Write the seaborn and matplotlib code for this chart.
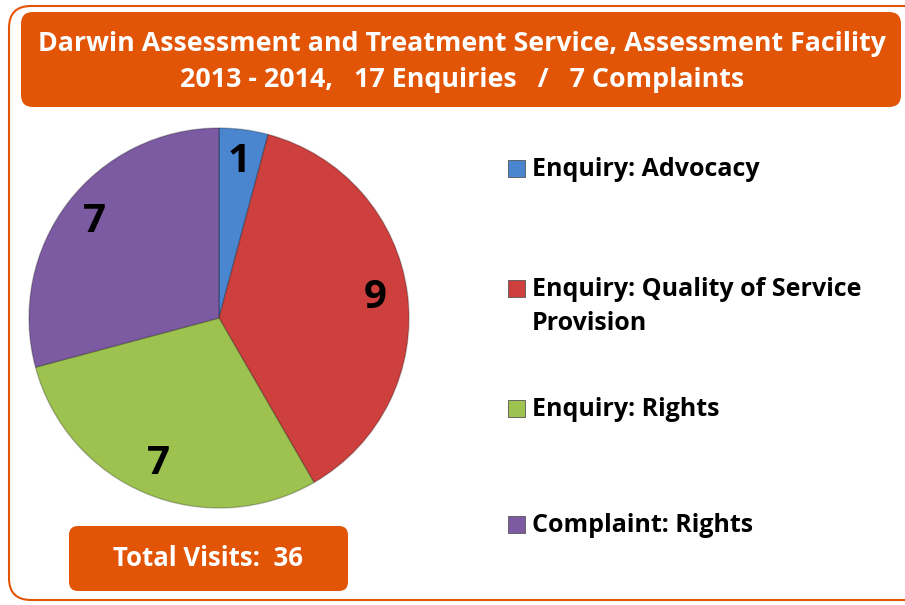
import matplotlib.pyplot as plt
import seaborn as sns
from matplotlib.patches import FancyBboxPatch, Rectangle

categories = ["Enquiry: Advocacy", "Enquiry: Quality of Service\nProvision",
              "Enquiry: Rights", "Complaint: Rights"]
counts = [1, 9, 7, 7]
colors = ["#4A86D0", "#CD403D", "#9DC250", "#7D5BA3"]
title_lines = ["Darwin Assessment and Treatment Service, Assessment Facility",
               "2013 - 2014,   17 Enquiries   /   7 Complaints"]
total_label = "Total Visits:  36"

sns.set_theme(style="white")
plt.rcParams["font.family"] = ["Open Sans", "DejaVu Sans"]
orange = "#E25406"

fig = plt.figure(figsize=(9.05, 6.05), dpi=100)

# overlay axis in pixel coords for boxes / legend
bg = fig.add_axes([0, 0, 1, 1])
bg.set_xlim(0, 905)
bg.set_ylim(605, 0)
bg.axis("off")

bg.add_patch(FancyBboxPatch((9, 6), 920, 594, boxstyle="round,pad=0,rounding_size=22",
                            fc="white", ec=orange, lw=1.5))
bg.add_patch(FancyBboxPatch((21, 12), 880, 95, boxstyle="round,pad=0,rounding_size=12",
                            fc=orange, ec="none"))
bg.text(462, 44, title_lines[0], color="white", fontsize=19.3, fontweight="bold",
        ha="center", va="center")
bg.text(462, 80, title_lines[1], color="white", fontsize=19.3, fontweight="bold",
        ha="center", va="center")
bg.add_patch(FancyBboxPatch((69, 526), 279, 65, boxstyle="round,pad=0,rounding_size=9",
                            fc=orange, ec="none"))
bg.text(208, 558, total_label, color="white", fontsize=18.5, fontweight="bold",
        ha="center", va="center")

# legend entries
leg_y = [168, 288, 408, 524]
for lab, col, y in zip(categories, colors, leg_y):
    bg.add_patch(Rectangle((508, y - 8), 17, 17, fc=col, ec="#555555", lw=0.6))
    bg.text(532, y - 11, lab, fontsize=18, fontweight="bold", color="black",
            ha="left", va="top", linespacing=1.45)

# pie
ax = fig.add_axes([29 / 905, (605 - 318 - 190) / 605, 380 / 905, 380 / 605])
wedges, texts, autotexts = ax.pie(
    counts, colors=colors, startangle=90, counterclock=False,
    autopct=lambda p: f"{round(p * sum(counts) / 100):d}", pctdistance=0.83,
    wedgeprops=dict(edgecolor=(0, 0, 0, 0.25), linewidth=1),
    textprops=dict(fontsize=29, fontweight="bold", color="black"))
ax.set_xlim(-1, 1)
ax.set_ylim(-1, 1)
ax.set_aspect("equal")

fig.savefig("out.png", dpi=100)
